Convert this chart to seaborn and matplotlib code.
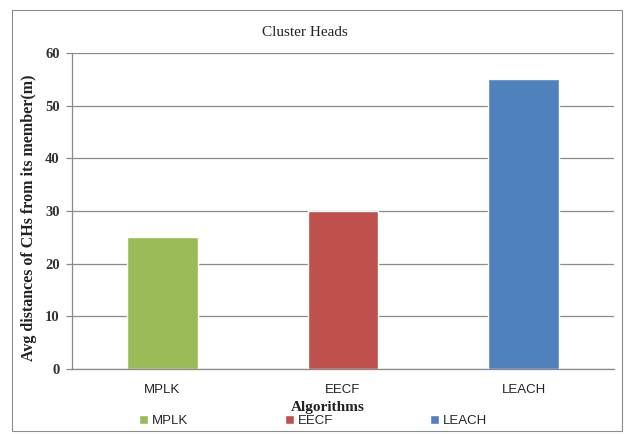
import matplotlib
matplotlib.use("Agg")
import matplotlib.pyplot as plt
import seaborn as sns
import pandas as pd
from matplotlib.patches import Rectangle

algorithms = ["MPLK", "EECF", "LEACH"]
avg_distance = [25, 30, 55]
colors = ["#9BBB59", "#C0504D", "#4F81BD"]
y_ticks = [0, 10, 20, 30, 40, 50, 60]

df = pd.DataFrame({"Algorithm": algorithms, "Distance": avg_distance})

sns.set_style("white")
serif = ["Liberation Serif", "DejaVu Serif"]
sans = ["Liberation Sans Narrow", "Liberation Sans", "DejaVu Sans"]
W, H = 633, 434

fig = plt.figure(figsize=(W / 100, H / 100), dpi=100)
fig.patches.append(Rectangle((12 / W, 3 / H), 610 / W, 421 / H,
                             transform=fig.transFigure, fill=False,
                             edgecolor="#8c8c8c", linewidth=0.8))
ax = fig.add_axes([72 / W, 1 - 369 / H, 542 / W, 316 / H])

sns.barplot(data=df, x="Algorithm", y="Distance", hue="Algorithm",
            palette=colors, width=0.39, dodge=False, legend=False, ax=ax,
            saturation=1)

ax.set_ylim(0, 60)
ax.set_xlim(-0.5, 2.5)
ax.set_yticks(y_ticks)
ax.set_yticklabels([str(t) for t in y_ticks], fontfamily=serif,
                   fontweight="bold", fontsize=10.5, color="#333333")
ax.yaxis.grid(True, color="#8a8a8a", linewidth=0.9)
ax.set_axisbelow(True)
for s in ["top", "right"]:
    ax.spines[s].set_visible(False)
for s in ["left", "bottom"]:
    ax.spines[s].set_color("#8a8a8a")
    ax.spines[s].set_linewidth(0.9)

# category labels centred, ticks at category boundaries
ax.set_xticks([0, 1, 2])
ax.set_xticklabels(algorithms, fontfamily=sans, fontsize=9.5, color="#222222")
ax.tick_params(axis="x", length=0, pad=11)
ax.set_xticks([-0.5, 0.5, 1.5, 2.5], minor=True)
ax.tick_params(axis="x", which="minor", length=5, color="#8a8a8a", width=0.9)
ax.tick_params(axis="y", length=4, color="#8a8a8a", width=0.9, left=True,
               pad=5)

ax.set_xlabel("")
ax.set_ylabel("Avg distances of CHs from its member(m)", fontfamily=serif,
              fontweight="bold", fontsize=11.5, color="#222222")
ax.yaxis.set_label_coords(-35 / 542, 0.48)

fig.text(305 / W, 1 - 32 / H, "Cluster Heads", fontfamily=serif,
         fontsize=11, ha="center", va="center", color="#222222")
fig.text(328 / W, 1 - 407 / H, "Algorithms", fontfamily=serif,
         fontweight="bold", fontsize=11, ha="center", va="center",
         color="#222222")

handles = [Rectangle((0, 0), 1, 1, facecolor=c) for c in colors]
fig.legend(handles, algorithms, loc="center", bbox_to_anchor=(313 / W, 1 - 421 / H),
           ncol=3, frameon=False, handlelength=0.7, handleheight=0.7,
           handletextpad=0.3, columnspacing=7.3,
           prop={"family": sans, "size": 9.5})

fig.savefig("out.png", dpi=100)
